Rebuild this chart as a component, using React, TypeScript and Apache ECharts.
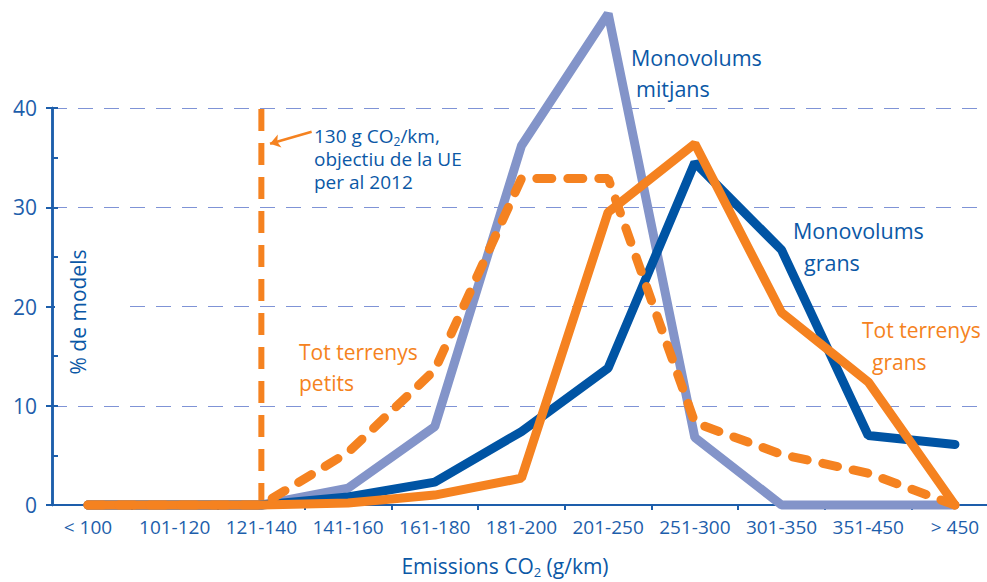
import React, { useEffect, useRef } from 'react';
import * as echarts from 'echarts';

const FONT = "'Open Sans', 'Noto Sans', sans-serif";
const BLUE_TEXT = '#0b58a6';
const ORANGE = '#f58220';
const LAVENDER = '#8394c9';
const DARK_BLUE = '#0054a4';
const AXIS_BLUE = '#1d5eab';
const GRID_DASH = '#7f93d6';

const CATEGORIES = ['< 100', '101-120', '121-140', '141-160', '161-180', '181-200', '201-250', '251-300', '301-350', '351-450', '> 450'];
const MONOVOLUMS_MITJANS = [0, 0, 0, 1.7, 7.9, 36.2, 49.5, 6.8, 0, 0, 0];
const MONOVOLUMS_GRANS = [0, 0, 0, 0.8, 2.3, 7.4, 13.8, 34.5, 25.7, 7.0, 6.1];
const TOT_TERRENYS_GRANS = [0, 0, 0, 0.2, 1.0, 2.7, 29.5, 36.4, 19.4, 12.4, 0];
const TOT_TERRENYS_PETITS = [0, 0, 0, 5.3, 13.6, 32.9, 32.9, 8.3, 5.1, 3.2, 0];

const TARGET_CATEGORY = '121-140';
const TARGET_TOP = 40.8;
const ARROW_FROM = [2.58, 37.6];
const ARROW_TO = [2.1, 36.4];

const Y_MIN = 0;
const Y_MAX = 40;
const Y_INTERVAL = 10;
const Y_MINOR_INTERVAL = 5;
const X_MIN = -0.415;
const X_MAX = 10.37;

const toPairs = (vals: number[]) => vals.map((v, i) => [i, v]);
const targetIndex = CATEGORIES.indexOf(TARGET_CATEGORY);

export default function App() {
  const ref = useRef<HTMLDivElement>(null);
  useEffect(() => {
    const chart = echarts.init(ref.current!, null, { renderer: 'svg' });
    const lineBase = (name: string, data: number[], color: string, extra: any = {}) => ({
      name,
      type: 'line',
      data: toPairs(data),
      symbol: 'none',
      clip: false,
      silent: true,
      lineStyle: { color, width: 9, cap: 'round', join: 'bevel', ...extra },
    });
    const axisLineStyle = { color: AXIS_BLUE, width: 2 };
    const option: any = {
      animation: false,
      backgroundColor: '#ffffff',
      grid: { left: 52, right: 0, top: 108, bottom: 77 },
      xAxis: {
        type: 'value',
        min: X_MIN,
        max: X_MAX,
        axisLine: { show: true, onZero: false, lineStyle: axisLineStyle },
        axisTick: {
          show: true,
          length: 5,
          lineStyle: axisLineStyle,
          customValues: CATEGORIES.slice(0, -1).map((_, i) => i + 0.5),
        },
        axisLabel: {
          customValues: CATEGORIES.map((_, i) => i),
          formatter: (v: number) => CATEGORIES[Math.round(v)] ?? '',
          color: AXIS_BLUE,
          fontFamily: FONT,
          fontSize: 19,
          margin: 12,
        },
        splitLine: { show: false },
      },
      yAxis: [
        {
          type: 'value',
          position: 'left',
          min: Y_MIN,
          max: Y_MAX,
          interval: Y_INTERVAL,
          axisLine: { show: true, onZero: false, lineStyle: { color: AXIS_BLUE, width: 2.5 } },
          axisTick: { show: true, length: 6, lineStyle: axisLineStyle },
          axisLabel: { color: AXIS_BLUE, fontFamily: FONT, fontSize: 21, margin: 15 },
          splitLine: { show: true, lineStyle: { color: GRID_DASH, width: 1, type: [15, 11] } },
        },
        {
          type: 'value',
          position: 'left',
          min: Y_MIN,
          max: Y_MAX,
          interval: Y_MINOR_INTERVAL,
          axisLine: { show: true, onZero: false, lineStyle: { color: AXIS_BLUE, width: 2.5 } },
          axisTick: { show: true, inside: true, length: 6, lineStyle: axisLineStyle },
          axisLabel: { show: false },
          splitLine: { show: false },
        },
      ],
      series: [
        lineBase('Monovolums mitjans', MONOVOLUMS_MITJANS, LAVENDER),
        lineBase('Monovolums grans', MONOVOLUMS_GRANS, DARK_BLUE),
        lineBase('Tot terrenys grans', TOT_TERRENYS_GRANS, ORANGE),
        lineBase('Tot terrenys petits', TOT_TERRENYS_PETITS, ORANGE, { type: [15, 16] }),
        {
          name: '130 g CO2/km',
          type: 'line',
          data: [[targetIndex, 0], [targetIndex, TARGET_TOP]],
          symbol: 'none',
          clip: false,
          silent: true,
          z: 1,
          lineStyle: { color: ORANGE, width: 6, type: [22, 12], cap: 'butt' },
          markLine: {
            silent: true,
            symbol: ['none', 'arrow'],
            symbolSize: 10,
            label: { show: false },
            lineStyle: { color: ORANGE, width: 2.5, type: 'solid' },
            data: [[{ coord: ARROW_FROM }, { coord: ARROW_TO }]],
          },
        },
      ],
      graphic: [
        { type: 'rect', z: 50, shape: { x: 55, y: 298, width: 64, height: 16 }, style: { fill: '#ffffff' } },
        {
          type: 'text', z: 51, x: 78, y: 312, rotation: Math.PI / 2,
          style: { text: '% de models', fill: BLUE_TEXT, fontFamily: FONT, fontSize: 21, align: 'center', verticalAlign: 'middle' },
        },
        {
          type: 'text', z: 51, x: 505, y: 566,
          style: {
            text: 'Emissions CO{sub|2} (g/km)', fill: BLUE_TEXT, fontFamily: FONT, fontSize: 21,
            align: 'center', verticalAlign: 'middle',
            rich: { sub: { fontSize: 13, fontFamily: FONT, fill: BLUE_TEXT, lineHeight: 10, padding: [12, 0, 0, 0] } },
          },
        },
        {
          type: 'text', z: 51, x: 314, y: 124,
          style: {
            text: '130 g CO{sub|2}/km,\nobjectiu de la UE\nper al 2012', fill: BLUE_TEXT, fontFamily: FONT, fontSize: 19,
            lineHeight: 23, align: 'left', verticalAlign: 'top',
            rich: { sub: { fontSize: 12, fontFamily: FONT, fill: BLUE_TEXT, lineHeight: 9, padding: [11, 0, 0, 0] } },
          },
        },
        { type: 'text', z: 51, x: 631, y: 57, style: { text: 'Monovolums', fill: BLUE_TEXT, fontFamily: FONT, fontSize: 21.5, verticalAlign: 'middle' } },
        { type: 'text', z: 51, x: 636, y: 88, style: { text: 'mitjans', fill: BLUE_TEXT, fontFamily: FONT, fontSize: 21.5, verticalAlign: 'middle' } },
        { type: 'text', z: 51, x: 793, y: 230, style: { text: 'Monovolums', fill: BLUE_TEXT, fontFamily: FONT, fontSize: 21.5, verticalAlign: 'middle' } },
        { type: 'text', z: 51, x: 804, y: 262, style: { text: 'grans', fill: BLUE_TEXT, fontFamily: FONT, fontSize: 21.5, verticalAlign: 'middle' } },
        { type: 'text', z: 51, x: 862, y: 330, style: { text: 'Tot terrenys', fill: ORANGE, fontFamily: FONT, fontSize: 21, verticalAlign: 'middle' } },
        { type: 'text', z: 51, x: 872, y: 362, style: { text: 'grans', fill: ORANGE, fontFamily: FONT, fontSize: 21, verticalAlign: 'middle' } },
        { type: 'text', z: 51, x: 299, y: 352, style: { text: 'Tot terrenys', fill: ORANGE, fontFamily: FONT, fontSize: 21, verticalAlign: 'middle' } },
        { type: 'text', z: 51, x: 299, y: 383, style: { text: 'petits', fill: ORANGE, fontFamily: FONT, fontSize: 21, verticalAlign: 'middle' } },
      ],
    };
    chart.setOption(option);
    return () => chart.dispose();
  }, []);
  return <div ref={ref} style={{ position: 'fixed', left: 0, top: 0, width: 987, height: 582, background: '#ffffff' }} />;
}
